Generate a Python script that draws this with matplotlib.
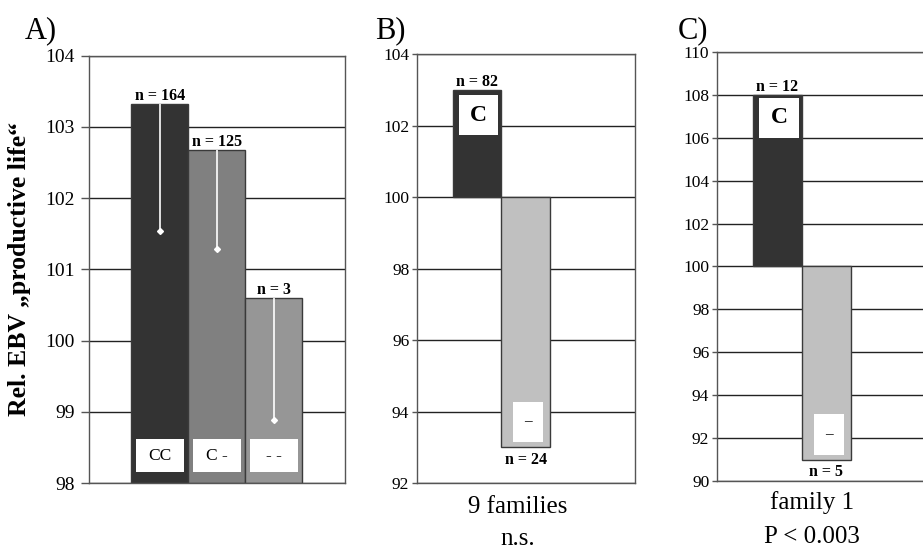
import matplotlib
matplotlib.use("Agg")
import matplotlib.pyplot as plt

plt.rcParams['font.family'] = ['Liberation Serif', 'DejaVu Serif']

# Panel A : genotypes CC / C- / --
a_genotypes = ["CC", "C -", "- -"]
a_values = [103.32, 102.68, 100.60]
a_low = [101.54, 101.29, 98.88]
a_n = ["n = 164", "n = 125", "n = 3"]
a_colors = ["#333333", "#808080", "#969696"]

# Panel B : 9 families, allele C vs -
b_labels = ["C", "\u2013"]
b_values = [103.0, 93.0]
b_n = ["n = 82", "n = 24"]

# Panel C : family 1
c_labels = ["C", "\u2013"]
c_values = [108.0, 91.0]
c_n = ["n = 12", "n = 5"]

bc_colors = ["#333333", "#c0c0c0"]

fig = plt.figure(figsize=(9.23, 5.5), dpi=100)

edge = "#3a3a3a"
grid_c = "#222222"


def style_axes(ax, ymin, ymax, step, tick_size, tick_len, tick_pad):
    ax.set_ylim(ymin, ymax)
    ax.set_xlim(-1.24, 3.25)
    ax.set_yticks(range(ymin, ymax + 1, step))
    ax.set_xticks([])
    ax.yaxis.grid(True, color=grid_c, linewidth=1.0)
    ax.set_axisbelow(True)
    for s in ax.spines.values():
        s.set_color("#555555")
        s.set_linewidth(1.0)
    ax.tick_params(axis="y", direction="out", length=tick_len, width=1,
                   color="#555555", labelsize=tick_size, pad=tick_pad)


# ---------- A ----------
axA = fig.add_axes([0.0964, 0.1218, 0.2774, 0.777])
style_axes(axA, 98, 104, 1, 14, 6, 4)
xa = list(range(len(a_values)))
axA.bar(xa, [v - 98 for v in a_values], bottom=98, width=1.0,
        color=a_colors, edgecolor=edge, linewidth=1.0)
for i, v in enumerate(a_values):
    axA.vlines(i, a_low[i], v, color="white", linewidth=1.2)
    axA.plot(i, a_low[i], marker="D", ms=3, color="white", mec="white")
    axA.annotate(a_n[i], (i, v), xytext=(0, 0), textcoords="offset points",
                 ha="center", va="bottom", fontsize=11.5, fontweight="bold")
    axA.bar(i, 98.62 - 98.15, bottom=98.15, width=0.84, color="white",
            edgecolor="none")
    axA.text(i, 98.385, a_genotypes[i], ha="center", va="center", fontsize=12.5)
axA.set_ylabel("Rel. EBV \u201eproductive life\u201c", fontsize=18.5,
               fontweight="bold")
axA.yaxis.set_label_coords(-0.225, 0.5)


# ---------- B and C ----------
def panel(rect, values, labels, ns, ymin, ymax, step, boxes, xtexts):
    ax = fig.add_axes(rect)
    style_axes(ax, ymin, ymax, step, 12.5, 3.5, 2)
    xs = list(range(len(values)))
    ax.bar(xs, [v - 100 for v in values], bottom=100, width=1.0,
           color=bc_colors, edgecolor=edge, linewidth=1.0)
    for i, v in enumerate(values):
        if v > 100:
            ax.annotate(ns[i], (i, v), xytext=(0, 0), textcoords="offset points",
                        ha="center", va="bottom", fontsize=11.5, fontweight="bold")
        else:
            ax.annotate(ns[i], (i, v), xytext=(0, -9), textcoords="offset points",
                        ha="center", va="center", fontsize=11.5, fontweight="bold")
        lo, hi, w, dx = boxes[i]
        ax.bar(i + dx, hi - lo, bottom=lo, width=w, color="white", edgecolor="none")
        ax.text(i + dx, (lo + hi) / 2, labels[i], ha="center", va="center",
                fontsize=17 if i == 0 else 11, fontweight="bold" if i == 0 else "normal")
    for (xf, yf, t) in xtexts:
        ax.text(xf, yf, t, transform=ax.transAxes, ha="center", va="center",
                fontsize=18)
    return ax


axB = panel([0.4518, 0.1218, 0.2362, 0.78], b_values, b_labels, b_n, 92, 104, 2,
            [(101.73, 102.85, 0.8, 0.03), (93.15, 94.27, 0.62, 0.05)],
            [(0.463, -0.055, "9 families"), (0.463, -0.13, "n.s.")])

axC = panel([0.7768, 0.1255, 0.2373, 0.78], c_values, c_labels, c_n, 90, 110, 2,
            [(105.99, 107.86, 0.82, 0.03), (91.21, 93.12, 0.62, 0.05)],
            [(0.434, -0.05, "family 1"), (0.434, -0.13, "P < 0.003")])

fig.text(0.027, 0.945, "A)", fontsize=22, va="center", ha="left")
fig.text(0.406, 0.945, "B)", fontsize=22, va="center", ha="left")
fig.text(0.734, 0.945, "C)", fontsize=22, va="center", ha="left")

fig.savefig("out.png", dpi=100)
